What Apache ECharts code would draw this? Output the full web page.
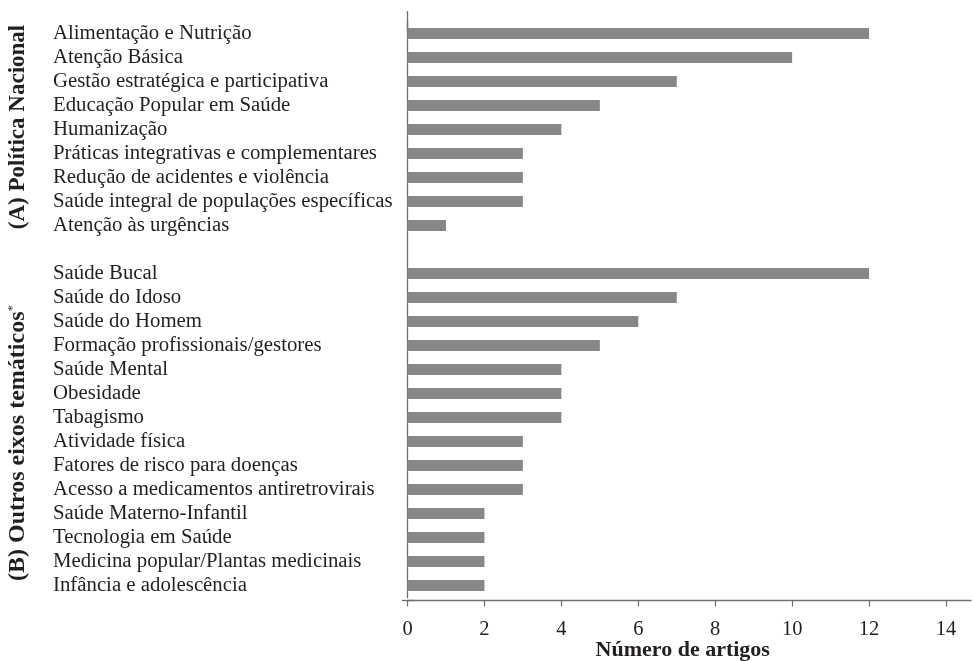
<!DOCTYPE html>
<html>
<head>
<meta charset="utf-8">
<script src="https://cdn.jsdelivr.net/npm/echarts@6/dist/echarts.min.js"></script>
<style>
html,body{margin:0;padding:0;background:#fff;}
#chart{width:973px;height:661px;}
</style>
</head>
<body>
<div id="chart"></div>
<script>
// Group A: Política Nacional
const categoriesA = [
  'Alimentação e Nutrição',
  'Atenção Básica',
  'Gestão estratégica e participativa',
  'Educação Popular em Saúde',
  'Humanização',
  'Práticas integrativas e complementares',
  'Redução de acidentes e violência',
  'Saúde integral de populações específicas',
  'Atenção às urgências'
];
const valuesA = [12, 10, 7, 5, 4, 3, 3, 3, 1];

// Group B: Outros eixos temáticos
const categoriesB = [
  'Saúde Bucal',
  'Saúde do Idoso',
  'Saúde do Homem',
  'Formação profissionais/gestores',
  'Saúde Mental',
  'Obesidade',
  'Tabagismo',
  'Atividade física',
  'Fatores de risco para doenças',
  'Acesso a medicamentos antiretrovirais',
  'Saúde Materno-Infantil',
  'Tecnologia em Saúde',
  'Medicina popular/Plantas medicinais',
  'Infância e adolescência'
];
const valuesB = [12, 7, 6, 5, 4, 4, 4, 3, 3, 3, 2, 2, 2, 2];

const xTicks = [0, 2, 4, 6, 8, 10, 12, 14];
const groupLabelA = '(A) Política Nacional';
const groupLabelB = '(B) Outros eixos temáticos';
const axisTitle = 'Número de artigos';

// combined category list with an empty spacer row between groups
const categories = categoriesA.concat([' '], categoriesB);
const values = valuesA.concat(['-'], valuesB);

const FONT = '"Liberation Serif", "DejaVu Serif", serif';
const TXT = '#231f20';
const AX = '#6f6f6f';

const chart = echarts.init(document.getElementById('chart'), null, {renderer: 'canvas'});
chart.setOption({
  animation: false,
  backgroundColor: '#ffffff',
  grid: {left: 407.5, right: 2, top: 21.5, bottom: 63.5, containLabel: false, outerBoundsMode: 'none'},
  xAxis: {
    type: 'value',
    min: 0,
    max: 14.65,
    offset: 3,
    axisLine: {show: true, lineStyle: {color: AX, width: 1.3}, symbol: ['rect', 'none'], symbolSize: [1.3, 11]},
    axisTick: {show: true, inside: false, length: 6, lineStyle: {color: AX, width: 1.2}, customValues: xTicks},
    axisLabel: {show: true, margin: 19, fontFamily: FONT, fontSize: 20.5, color: TXT, customValues: xTicks},
    splitLine: {show: false},
    name: axisTitle,
    nameLocation: 'middle',
    nameGap: 39,
    nameMoveOverlap: false,
    nameTextStyle: {fontFamily: FONT, fontSize: 22, fontWeight: 'bold', color: TXT, padding: [0, 13, 0, 0]}
  },
  yAxis: {
    type: 'category',
    inverse: true,
    data: categories,
    axisLine: {show: true, lineStyle: {color: AX, width: 1.3}, symbol: ['none', 'rect'], symbolSize: [1.3, 21]},
    axisTick: {show: false},
    axisLabel: {show: true, align: 'left', margin: 354.5, fontFamily: FONT, fontSize: 20.8, color: TXT, interval: 0},
    splitLine: {show: false}
  },
  series: [{
    type: 'bar',
    data: values,
    barWidth: 11,
    itemStyle: {color: '#878787'},
    silent: true
  }],
  graphic: [
    {
      type: 'text',
      x: 18, y: 127,
      rotation: Math.PI / 2,
      style: {text: groupLabelA, font: 'bold 23px ' + FONT, fill: TXT, align: 'center', verticalAlign: 'middle'}
    },
    {
      type: 'text',
      x: 18, y: 443,
      rotation: Math.PI / 2,
      style: {
        text: '{t|' + groupLabelB + '}{s|*}',
        rich: {
          t: {font: 'bold 24px ' + FONT, fill: TXT},
          s: {font: '13px ' + FONT, fill: TXT, verticalAlign: 'top', padding: [0, 0, 11, 0]}
        },
        align: 'center', verticalAlign: 'middle'
      }
    }
  ]
});
</script>
</body>
</html>
